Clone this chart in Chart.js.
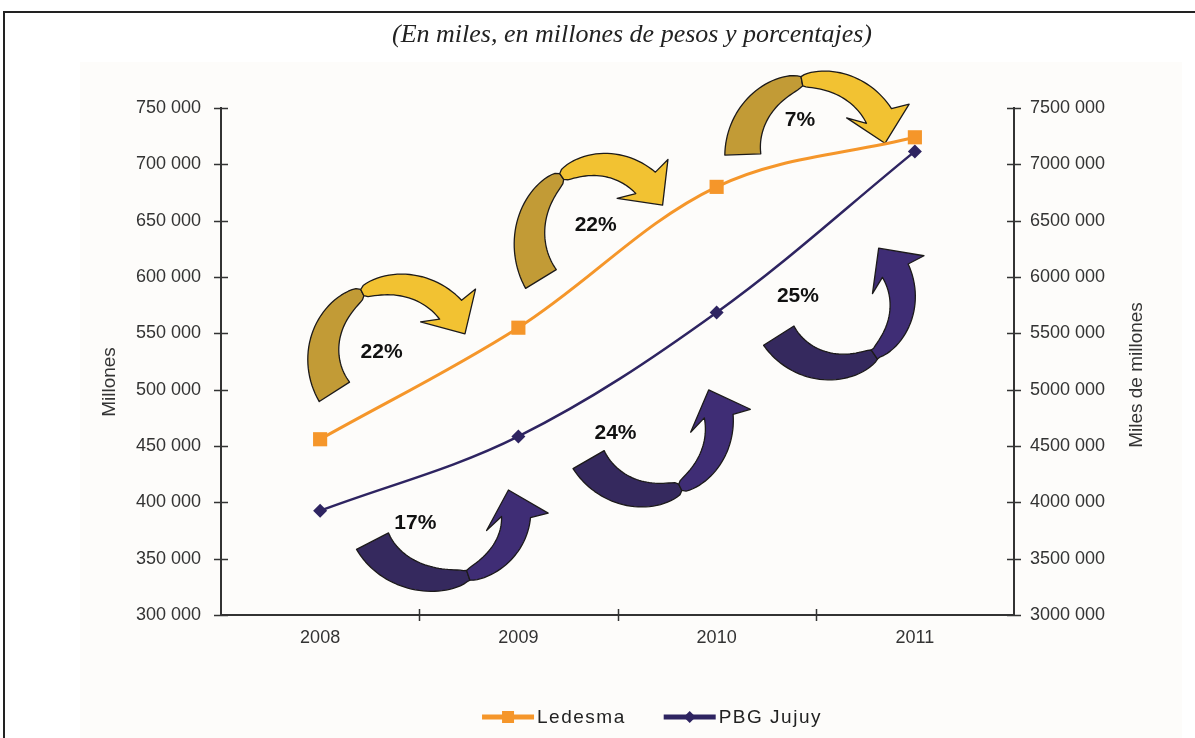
<!DOCTYPE html>
<html>
<head>
<meta charset="utf-8">
<title>Ledesma y PBG Jujuy</title>
<script src="https://cdn.jsdelivr.net/npm/chart.js@4.4.1/dist/chart.umd.min.js"></script>
<style>
	html, body { margin: 0; padding: 0; background: #ffffff; }
	#wrap { width: 1195px; height: 738px; position: relative; }
</style>
</head>
<body>
<div id="wrap"><canvas id="growthChart" width="1195" height="738"></canvas></div>
<script>
// Data
var years = ['2008', '2009', '2010', '2011'];
var ledesma = [456000, 555000, 680000, 724000];		// Millones (eje izquierdo)
var pbgJujuy = [3925000, 4585000, 5685000, 7115000];	// Miles de millones (eje derecho)
var leftTicks = [300000, 350000, 400000, 450000, 500000, 550000, 600000, 650000, 700000, 750000];
var rightTicks = [3000000, 3500000, 4000000, 4500000, 5000000, 5500000, 6000000, 6500000, 7000000, 7500000];
var growthLedesma = ['22%', '22%', '7%'];
var growthPbg = ['17%', '24%', '25%'];

var titleText = '(En miles, en millones de pesos y porcentajes)';
var leftTitle = 'Millones';
var rightTitle = 'Miles de millones';

var orange = '#F5962A';
var navy = '#2E2461';
var fontSans = '"Liberation Sans", Arial, sans-serif';

//Curved arrows, placed in data units (category index, left axis value)
var arrowShapes = [
	{ idx: 0.38, val: 531000, rx: 72, ry: 70, a0: 148, a1: 320, twist: 0.55, turn: 10, dark: '#C29B36', light: '#F2C232', label: growthLedesma[0], lx: 0.31, lv: 533000 },
	{ idx: 1.41, val: 634000, rx: 70, ry: 74, a0: 147, a1: 311, twist: 0.55, turn: 10, dark: '#C29B36', light: '#F2C232', label: growthLedesma[1], lx: 1.39, lv: 646000 },
	{ idx: 2.50, val: 711000, rx: 73, ry: 72, a0: 178, a1: 330, twist: 0.53, turn: 18, dark: '#C29B36', light: '#F2C232', label: growthLedesma[2], lx: 2.42, lv: 739000 },
	{ idx: 0.61, val: 389000, rx: 75, ry: 65, a0: 156, a1: 2, twist: 0.56, turn: -18, dark: '#35295E', light: '#3F2D75', label: growthPbg[0], lx: 0.48, lv: 381700 },
	{ idx: 1.66, val: 469000, rx: 70, ry: 70, a0: 150, a1: -7, twist: 0.55, turn: -14, dark: '#35295E', light: '#3F2D75', label: growthPbg[1], lx: 1.49, lv: 461500 },
	{ idx: 2.60, val: 579000, rx: 67, ry: 66, a0: 148, a1: -27, twist: 0.54, turn: -9, dark: '#35295E', light: '#3F2D75', label: growthPbg[2], lx: 2.41, lv: 583000 }
];

//Format like "750 000" / "7500 000"
function fmtMiles(v)
{
	var s = String(v);
	return s.slice(0, -3) + ' ' + s.slice(-3);
}

//Draw one twisted ribbon arrow
function drawRibbonArrow(ctx, cx, cy, a)
{
	var n = 60, mid = [], i;
	var a0 = a.a0 * Math.PI / 180, a1 = a.a1 * Math.PI / 180;
	var wTail = 36, wMin = 7, wEnd = 29;
	for (i = 0; i <= n; i++)
	{
		var t = i / n;
		var ang = a0 + (a1 - a0) * t;
		var dx = -a.rx * Math.sin(ang) * (a1 - a0);
		var dy = a.ry * Math.cos(ang) * (a1 - a0);
		var len = Math.sqrt(dx * dx + dy * dy);
		var w;
		if (t < a.twist) w = wMin + (wTail - wMin) * Math.pow((a.twist - t) / a.twist, 0.45);
		else w = wMin + (wEnd - wMin) * Math.pow((t - a.twist) / (1 - a.twist), 0.45);
		mid.push({ x: cx + a.rx * Math.cos(ang), y: cy + a.ry * Math.sin(ang), dx: dx / len, dy: dy / len, w: w });
	}
	var k = Math.round(a.twist * n);

	ctx.save();
	ctx.lineJoin = 'round';
	ctx.lineWidth = 1.3;
	ctx.strokeStyle = '#1c1a1a';

	//dark part: tail to twist
	ctx.beginPath();
	for (i = 0; i <= k; i++) ctx.lineTo(mid[i].x - mid[i].dy * mid[i].w / 2, mid[i].y + mid[i].dx * mid[i].w / 2);
	for (i = k; i >= 0; i--) ctx.lineTo(mid[i].x + mid[i].dy * mid[i].w / 2, mid[i].y - mid[i].dx * mid[i].w / 2);
	ctx.closePath();
	ctx.fillStyle = a.dark;
	ctx.fill();
	ctx.stroke();

	//light part: twist to head
	var e = mid[n];
	var tr = a.turn * Math.PI / 180;
	var tx = e.dx * Math.cos(tr) - e.dy * Math.sin(tr);
	var ty = e.dx * Math.sin(tr) + e.dy * Math.cos(tr);
	var headW = 64, headL = 28, sweep = 5;
	ctx.beginPath();
	for (i = k; i <= n; i++) ctx.lineTo(mid[i].x - mid[i].dy * mid[i].w / 2, mid[i].y + mid[i].dx * mid[i].w / 2);
	ctx.lineTo(e.x - ty * headW / 2 - tx * sweep, e.y + tx * headW / 2 - ty * sweep);
	ctx.lineTo(e.x + tx * headL, e.y + ty * headL);
	ctx.lineTo(e.x + ty * headW / 2 - tx * sweep, e.y - tx * headW / 2 - ty * sweep);
	for (i = n; i >= k; i--) ctx.lineTo(mid[i].x + mid[i].dy * mid[i].w / 2, mid[i].y - mid[i].dx * mid[i].w / 2);
	ctx.closePath();
	ctx.fillStyle = a.light;
	ctx.fill();
	ctx.stroke();
	ctx.restore();
}

//Small marker used in the legend
function drawMarker(ctx, style, x, y, r, color)
{
	ctx.fillStyle = color;
	ctx.beginPath();
	if (style === 'rect')
	{
		ctx.rect(x - r, y - r, 2 * r, 2 * r);
	}
	else
	{
		ctx.moveTo(x, y - r);
		ctx.lineTo(x + r, y);
		ctx.lineTo(x, y + r);
		ctx.lineTo(x - r, y);
		ctx.closePath();
	}
	ctx.fill();
}

var decorPlugin = {
	id: 'decor',
	beforeDraw: function(chart)
	{
		var ctx = chart.ctx;
		ctx.save();
		ctx.fillStyle = '#ffffff';
		ctx.fillRect(0, 0, chart.width, chart.height);
		ctx.fillStyle = '#FDFCFA';
		ctx.fillRect(80, 62, 1102, 676);
		//frame
		ctx.strokeStyle = '#222222';
		ctx.lineWidth = 2;
		ctx.beginPath();
		ctx.moveTo(4, chart.height);
		ctx.lineTo(4, 12);
		ctx.lineTo(chart.width, 12);
		ctx.stroke();
		//title
		ctx.fillStyle = '#222222';
		ctx.font = 'italic 26px "Liberation Serif", "Times New Roman", serif';
		ctx.textAlign = 'center';
		ctx.textBaseline = 'middle';
		ctx.fillText(titleText, 632, 35);
		ctx.restore();
	},
	beforeDatasetsDraw: function(chart)
	{
		var ctx = chart.ctx;
		var xs = chart.scales.x, ys = chart.scales.y;
		arrowShapes.forEach(function(a)
		{
			drawRibbonArrow(ctx, xs.getPixelForValue(a.idx), ys.getPixelForValue(a.val), a);
		});
		ctx.save();
		ctx.fillStyle = '#111111';
		ctx.font = 'bold 21px ' + fontSans;
		ctx.textAlign = 'center';
		ctx.textBaseline = 'middle';
		arrowShapes.forEach(function(a)
		{
			ctx.fillText(a.label, xs.getPixelForValue(a.lx), ys.getPixelForValue(a.lv));
		});
		ctx.restore();
	},
	afterDraw: function(chart)
	{
		var ctx = chart.ctx;
		var area = chart.chartArea;
		var xs = chart.scales.x, ys = chart.scales.y, ys1 = chart.scales.y1;
		var i, p;
		ctx.save();
		//crossing tick marks
		ctx.strokeStyle = '#333333';
		ctx.lineWidth = 1.5;
		ctx.beginPath();
		for (i = 0; i < ys.ticks.length; i++)
		{
			p = Math.round(ys.getPixelForTick(i)) + 0.5;
			ctx.moveTo(area.left - 7, p);
			ctx.lineTo(area.left + 7, p);
		}
		for (i = 0; i < ys1.ticks.length; i++)
		{
			p = Math.round(ys1.getPixelForTick(i)) + 0.5;
			ctx.moveTo(area.right - 7, p);
			ctx.lineTo(area.right + 7, p);
		}
		for (i = 0; i < xs.ticks.length - 1; i++)
		{
			p = Math.round((xs.getPixelForTick(i) + xs.getPixelForTick(i + 1)) / 2) + 0.5;
			ctx.moveTo(p, area.bottom - 6);
			ctx.lineTo(p, area.bottom + 6);
		}
		ctx.stroke();

		//axis titles, both read bottom to top
		ctx.fillStyle = '#333333';
		ctx.font = '19px ' + fontSans;
		ctx.textAlign = 'center';
		ctx.textBaseline = 'middle';
		ctx.save();
		ctx.translate(110, 382);
		ctx.rotate(-Math.PI / 2);
		ctx.fillText(leftTitle, 0, 0);
		ctx.restore();
		ctx.save();
		ctx.translate(1137, 375);
		ctx.rotate(-Math.PI / 2);
		ctx.fillText(rightTitle, 0, 0);
		ctx.restore();

		//legend
		var items = chart.data.datasets;
		ctx.font = '19px ' + fontSans;
		ctx.letterSpacing = '1.5px';
		ctx.textAlign = 'left';
		var lineLen = 52, gap = 3, between = 38, total = 0;
		items.forEach(function(d, j)
		{
			total += lineLen + gap + ctx.measureText(d.label).width + (j ? between : 0);
		});
		var lx = 652 - total / 2, ly = 717;
		items.forEach(function(d, j)
		{
			if (j) lx += between;
			ctx.strokeStyle = d.borderColor;
			ctx.lineWidth = 5;
			ctx.beginPath();
			ctx.moveTo(lx, ly);
			ctx.lineTo(lx + lineLen, ly);
			ctx.stroke();
			drawMarker(ctx, d.pointStyle, lx + lineLen / 2, ly, d.pointStyle === 'rect' ? 6 : 6, d.borderColor);
			lx += lineLen + gap;
			ctx.fillStyle = '#222222';
			ctx.fillText(d.label, lx, ly + 1);
			lx += ctx.measureText(d.label).width;
		});
		ctx.restore();
	}
};

var ctx = document.getElementById('growthChart').getContext('2d');

var growthChart = new Chart(ctx, {
	type: 'line',
	data: {
		labels: years,
		datasets: [
			{
				label: 'Ledesma',
				data: ledesma,
				yAxisID: 'y',
				borderColor: orange,
				backgroundColor: orange,
				borderWidth: 3,
				pointStyle: 'rect',
				pointRadius: 10,
				pointBorderWidth: 0,
				tension: 0.35,
				clip: false
			},
			{
				label: 'PBG Jujuy',
				data: pbgJujuy,
				yAxisID: 'y1',
				borderColor: navy,
				backgroundColor: navy,
				borderWidth: 2.5,
				pointStyle: 'rectRot',
				pointRadius: 7,
				pointBorderWidth: 0,
				tension: 0.35,
				clip: false
			}
		]
	},
	options: {
		responsive: false,
		animation: false,
		devicePixelRatio: 1,
		layout: { padding: { left: 0, right: 0, top: 108, bottom: 83 } },
		plugins: {
			legend: { display: false },
			tooltip: { enabled: false }
		},
		scales: {
			x: {
				offset: true,
				afterFit: function(s) { s.height = 40; },
				grid: { offset: true, drawOnChartArea: false, color: 'rgba(0,0,0,0)', tickLength: 7 },
				border: { color: '#333333', width: 2 },
				ticks: { color: '#333333', padding: 5, font: { family: fontSans, size: 18 } }
			},
			y: {
				position: 'left',
				min: leftTicks[0],
				max: leftTicks[leftTicks.length - 1],
				afterFit: function(s) { s.width = 221; },
				afterBuildTicks: function(s) { s.ticks = leftTicks.map(function(v) { return { value: v }; }); },
				grid: { drawOnChartArea: false, color: 'rgba(0,0,0,0)', tickLength: 7 },
				border: { color: '#333333', width: 2 },
				ticks: {
					color: '#333333',
					padding: 13,
					font: { family: fontSans, size: 18 },
					callback: function(v) { return fmtMiles(v); }
				}
			},
			y1: {
				position: 'right',
				min: rightTicks[0],
				max: rightTicks[rightTicks.length - 1],
				afterFit: function(s) { s.width = 181; },
				afterBuildTicks: function(s) { s.ticks = rightTicks.map(function(v) { return { value: v }; }); },
				grid: { drawOnChartArea: false, color: 'rgba(0,0,0,0)', tickLength: 7 },
				border: { color: '#333333', width: 2 },
				ticks: {
					color: '#333333',
					padding: 9,
					font: { family: fontSans, size: 18 },
					callback: function(v) { return fmtMiles(v); }
				}
			}
		}
	},
	plugins: [decorPlugin]
});
</script>
</body>
</html>
